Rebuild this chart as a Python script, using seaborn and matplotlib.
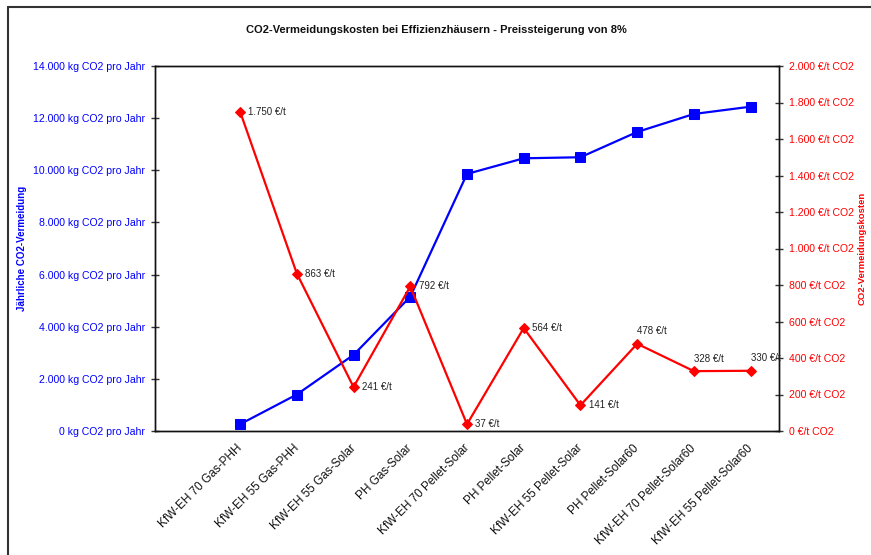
import numpy as np
import pandas as pd
import matplotlib
matplotlib.use("Agg")
import matplotlib.pyplot as plt
from matplotlib.lines import Line2D
from matplotlib.ticker import FixedLocator, FuncFormatter
from matplotlib.transforms import ScaledTranslation
import seaborn as sns

# Kategorien (erste Spalte im Original leer)
categories = ["", "KfW-EH 70 Gas-PHH", "KfW-EH 55 Gas-PHH", "KfW-EH 55 Gas-Solar",
              "PH Gas-Solar", "KfW-EH 70 Pellet-Solar", "PH Pellet-Solar",
              "KfW-EH 55 Pellet-Solar", "PH Pellet-Solar60",
              "KfW-EH 70 Pellet-Solar60", "KfW-EH 55 Pellet-Solar60"]
# Jährliche CO2-Vermeidung (kg CO2 pro Jahr)
co2_vermeidung = [260, 1400, 2920, 5150, 9860, 10460, 10500, 11470, 12160, 12440]
# CO2-Vermeidungskosten (€/t CO2)
co2_kosten = [1750, 863, 241, 792, 37, 564, 141, 478, 328, 330]

blue = "#0000FF"
red = "#FF0000"

sns.set_theme(style="white")
plt.rcParams["font.family"] = ["Liberation Sans", "DejaVu Sans"]

pos = np.arange(len(categories)) + 0.5
df = pd.DataFrame({"x": pos[1:], "vermeidung": co2_vermeidung, "kosten": co2_kosten})

fig = plt.figure(figsize=(8.71, 5.55), dpi=100)
ax = fig.add_axes([155 / 871, 1 - 431 / 555, 624 / 871, 365 / 555])
ax2 = ax.twinx()

sns.lineplot(data=df, x="x", y="vermeidung", ax=ax, color=blue, marker="s",
             markersize=6.5, markeredgecolor=blue, linewidth=1.6)
sns.lineplot(data=df, x="x", y="kosten", ax=ax2, color=red, marker="D",
             markersize=5, markeredgecolor=red, linewidth=1.6)

ax.set_xlim(0, len(categories))
ax.set_ylim(0, 14000)
ax2.set_ylim(0, 2000)

# x-Achse: Striche an Grenzen, Beschriftung in der Mitte
ax.xaxis.set_major_locator(FixedLocator(np.arange(len(categories) + 1)))
ax.xaxis.set_major_formatter(FuncFormatter(lambda v, p: ""))
ax.xaxis.set_minor_locator(FixedLocator(pos))
ax.set_xticklabels(categories, minor=True)
ax.tick_params(axis="x", which="major", direction="inout", length=6, width=1, color="#333333")
ax.tick_params(axis="x", which="minor", length=0, pad=8, labelsize=8.5, labelcolor="#111111")
shift = ScaledTranslation(-4 / 100, 0, fig.dpi_scale_trans)
for lab in ax.get_xticklabels(minor=True):
    lab.set_rotation(45)
    lab.set_ha("right")
    lab.set_va("top")
    lab.set_rotation_mode("anchor")
    lab.set_transform(lab.get_transform() + shift)

ax.set_yticks(np.arange(0, 14001, 2000))
ax.yaxis.set_major_formatter(FuncFormatter(
    lambda v, p: f"{v:,.0f}".replace(",", ".") + " kg CO2 pro Jahr"))
ax.tick_params(axis="y", direction="inout", length=6, width=1, color="#333333",
               labelsize=7.6, labelcolor=blue, pad=4)

ax2.set_yticks(np.arange(0, 2001, 200))
ax2.yaxis.set_major_formatter(FuncFormatter(
    lambda v, p: f"{v:,.0f}".replace(",", ".") + " €/t CO2"))
ax2.tick_params(axis="y", direction="inout", length=6, width=1, color="#333333",
                labelsize=7.6, labelcolor=red, pad=4)

ax.set_xlabel("")
ax.set_ylabel("Jährliche CO2-Vermeidung", color=blue, fontsize=7, fontweight="bold")
ax.yaxis.set_label_coords(-0.205, 0.5)
ax2.set_ylabel("CO2-Vermeidungskosten", color=red, fontsize=6.8, fontweight="bold")
ax2.yaxis.set_label_coords(1.126, 0.5)

for a in (ax, ax2):
    for s in a.spines.values():
        s.set_color("#111111")
        s.set_linewidth(1)

# Datenbeschriftungen
for i, (x, v) in enumerate(zip(df["x"], co2_kosten)):
    txt = f"{v:,.0f}".replace(",", ".") + " €/t"
    if i >= 7:
        ax2.annotate(txt, (x, v), xytext=(0, 9), textcoords="offset points",
                     ha="left", va="center", fontsize=7, color="#222222")
    else:
        ax2.annotate(txt, (x, v), xytext=(6, 0), textcoords="offset points",
                     ha="left", va="center", fontsize=7, color="#222222")

fig.text(436 / 871, 1 - 30 / 555,
         "CO2-Vermeidungskosten bei Effizienzhäusern - Preissteigerung von 8%",
         ha="center", va="center", fontsize=8, fontweight="bold", color="#111111")

# Rahmen (links und oben)
fig.add_artist(Line2D([8 / 871, 8 / 871], [0, 1 - 7 / 555], transform=fig.transFigure,
                      color="#333333", linewidth=1.5))
fig.add_artist(Line2D([8 / 871, 1], [1 - 7 / 555, 1 - 7 / 555], transform=fig.transFigure,
                      color="#333333", linewidth=1.5))

fig.savefig("out.png", dpi=100)
